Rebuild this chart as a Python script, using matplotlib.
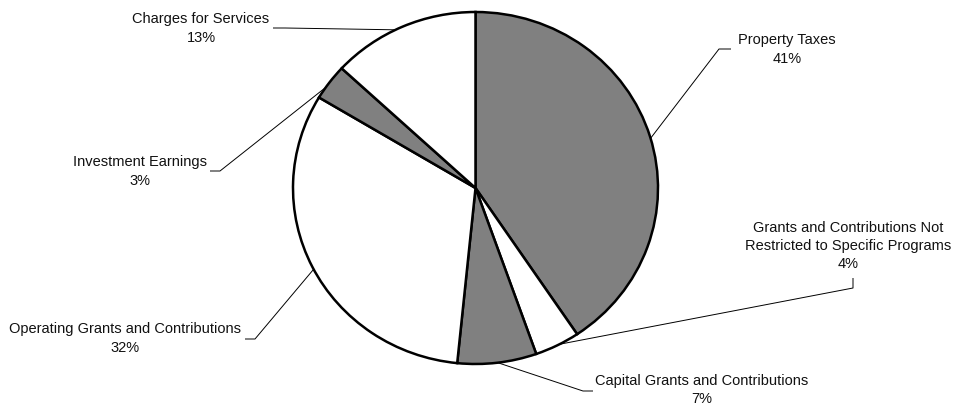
import numpy as np
import matplotlib.pyplot as plt

# revenue shares, clockwise from 12 o'clock
categories = [
    "Property Taxes",
    "Grants and Contributions Not\nRestricted to Specific Programs",
    "Capital Grants and Contributions",
    "Operating Grants and Contributions",
    "Investment Earnings",
    "Charges for Services",
]
shares = [40.6, 4.0, 7.0, 32.0, 3.3, 13.1]
fills = ["#808080", "#ffffff", "#808080", "#ffffff", "#808080", "#ffffff"]

W, H = 957, 407
cx, cy = 475.5, 188      # pie centre in pixels (y from top)
rx, ry = 182.5, 176      # the original pie is slightly squashed

# label layout: text centre, tick start, elbow, leader angle (deg clockwise from top)
layout = [
    ((787, 49.5), (731, 49), (719, 49), 73.6),
    ((848, 246), (853, 278), (853, 288), 152.6),
    ((702, 390), (593, 391), (583, 391), 173),
    ((125, 338.5), (245, 339), (255, 339), 242.5),
    ((140, 171.5), (210, 171), (220, 171), 304.9),
    ((201, 28.5), (273, 28), (285, 28), 334),
]

plt.rcParams['font.family'] = ['Liberation Sans', 'DejaVu Sans']

fig = plt.figure(figsize=(W / 100, H / 100), dpi=100)
ax = fig.add_axes([0, 0, 1, 1])

ax.pie(shares, colors=fills, startangle=90, counterclock=False,
       center=(0, 0), radius=1,
       wedgeprops=dict(edgecolor="black", linewidth=1.8))
ax.set_aspect('auto')
ax.set_xlim(-cx / rx, (W - cx) / rx)
ax.set_ylim((cy - H) / ry, cy / ry)
ax.axis('off')

# overlay in pixel coordinates for labels and leader lines
lab = fig.add_axes([0, 0, 1, 1], facecolor='none')
lab.set_xlim(0, W)
lab.set_ylim(H, 0)
lab.axis('off')

for name, val, (txt, p0, p1, ang) in zip(categories, shares, layout):
    a = np.radians(ang)
    ex, ey = cx + rx * np.sin(a), cy - ry * np.cos(a)
    lab.plot([p0[0], p1[0], ex], [p0[1], p1[1], ey],
             color="black", lw=0.7, solid_capstyle="butt")
    lab.text(txt[0], txt[1], f"{name}\n{val:.0f}%", ha="center", va="center",
             fontsize=10.5, linespacing=1.4, color="#111111")

fig.savefig("out.png", dpi=100)
